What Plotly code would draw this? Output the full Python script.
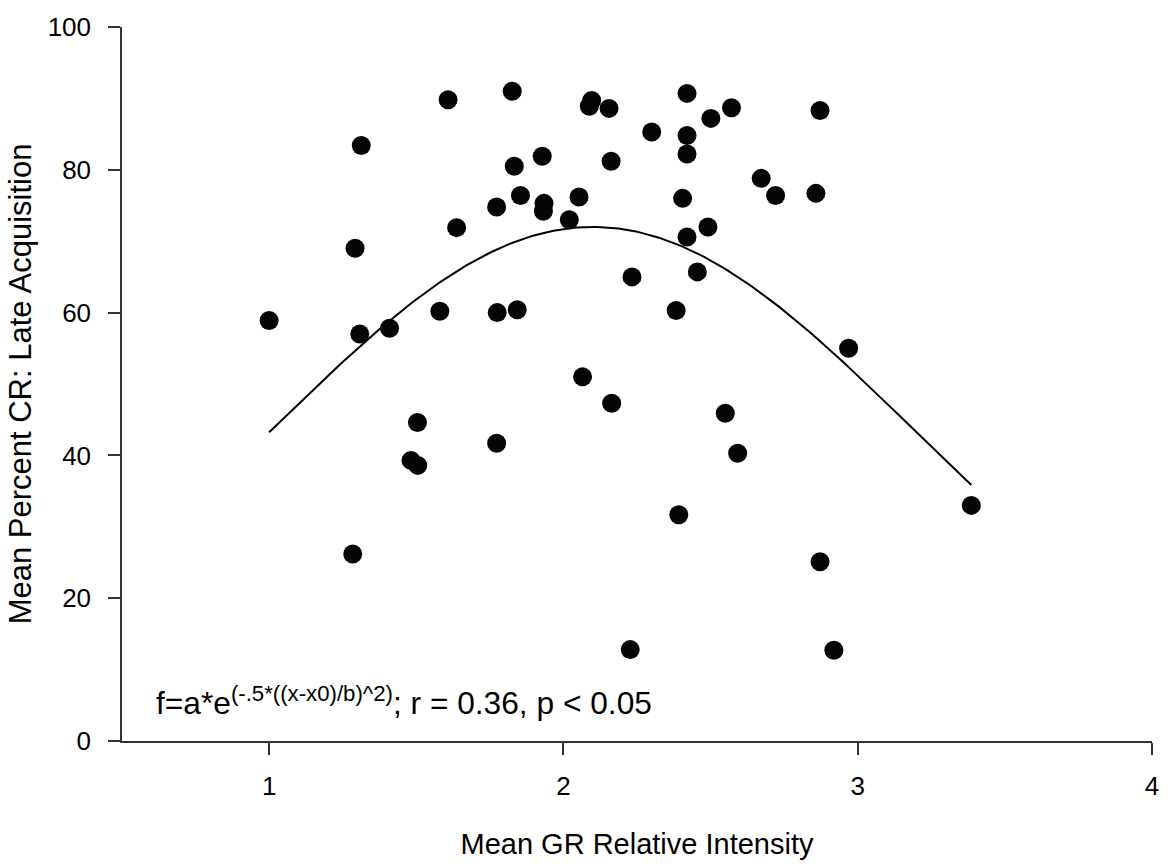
import numpy as np
import plotly.graph_objects as go

# Data
gr_intensity = [1.00, 1.284, 1.292, 1.313, 1.308, 1.409, 1.482, 1.504, 1.505, 1.580,
                1.608, 1.637, 1.773, 1.775, 1.773, 1.826, 1.833, 1.843, 1.854, 1.928,
                1.934, 1.932, 2.020, 2.053, 2.065, 2.096, 2.088, 2.155, 2.162, 2.164,
                2.227, 2.233, 2.300, 2.383, 2.392, 2.405, 2.420, 2.420, 2.420, 2.420,
                2.455, 2.491, 2.501, 2.550, 2.571, 2.592, 2.672, 2.721, 2.858, 2.872,
                2.872, 2.919, 2.969, 3.386]
pct_cr = [58.9, 26.2, 69.0, 83.4, 57.0, 57.8, 39.3, 44.6, 38.6, 60.2,
          89.8, 71.9, 74.8, 60.0, 41.7, 91.0, 80.5, 60.4, 76.4, 81.9,
          75.3, 74.2, 73.0, 76.2, 51.0, 89.7, 88.9, 88.6, 81.2, 47.3,
          12.8, 65.0, 85.3, 60.3, 31.7, 76.0, 90.7, 84.8, 82.2, 70.6,
          65.7, 72.0, 87.2, 45.9, 88.7, 40.3, 78.8, 76.4, 76.7, 88.3,
          25.1, 12.7, 55.0, 33.0]

# Gaussian fit parameters
fit_a = 72.0
fit_x0 = 2.10
fit_b = 1.089

x_ticks = [1, 2, 3, 4]
y_ticks = [0, 20, 40, 60, 80, 100]

fit_x = np.linspace(min(gr_intensity), max(gr_intensity), 200)
fit_y = fit_a * np.exp(-0.5 * ((fit_x - fit_x0) / fit_b) ** 2)

FONT = "Liberation Sans, Arial, sans-serif"

fig = go.Figure()
fig.add_trace(go.Scatter(x=fit_x, y=fit_y, mode="lines",
                         line=dict(color="black", width=2), showlegend=False,
                         hoverinfo="skip"))
fig.add_trace(go.Scatter(x=gr_intensity, y=pct_cr, mode="markers",
                         marker=dict(color="#050505", size=19), showlegend=False))

fig.add_annotation(x=0.61, y=5.6, xref="x", yref="y", xanchor="left", yanchor="middle",
                   text="f=a*e<sup>(-.5*((x-x0)/b)^2)</sup>; r = 0.36, p < 0.05",
                   showarrow=False, font=dict(family=FONT, size=31.7, color="black"))

axis_common = dict(showline=True, linecolor="#333333", linewidth=1.5,
                   ticks="outside", tickcolor="#333333", tickwidth=1.5, ticklen=12,
                   showgrid=False, zeroline=False,
                   tickfont=dict(family=FONT, size=26, color="black"))

fig.update_xaxes(range=[0.5, 4.0], tickvals=x_ticks, ticklabelstandoff=9,
                 title=dict(text="Mean GR Relative Intensity",
                            font=dict(family=FONT, size=29, color="black"), standoff=34),
                 **axis_common)
fig.update_yaxes(range=[0, 100], tickvals=y_ticks, ticklabelstandoff=12,
                 title=dict(text="Mean Percent CR: Late Acquisition",
                            font=dict(family=FONT, size=31, color="black"), standoff=7),
                 **axis_common)

fig.update_layout(width=1171, height=867,
                  margin=dict(l=122, r=17, t=20, b=123),
                  plot_bgcolor="white", paper_bgcolor="white",
                  font=dict(family=FONT))

fig.write_html("out.html")
